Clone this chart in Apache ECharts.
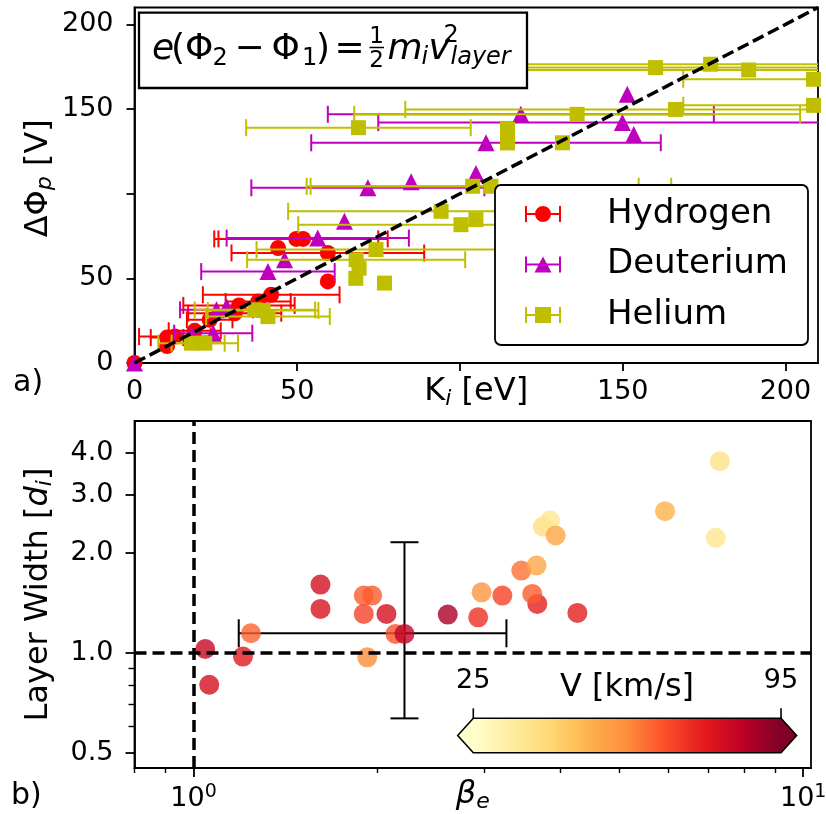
<!DOCTYPE html>
<html>
<head>
<meta charset="utf-8">
<script src="https://cdn.jsdelivr.net/npm/echarts@6/dist/echarts.min.js"></script>
<style>
  html, body { margin: 0; padding: 0; background: #fff; }
  #chart { width: 826px; height: 814px; }
</style>
</head>
<body>
<div id="chart"></div>
<script>
// ---------- Panel a) : potential drop vs. ion kinetic energy ----------
// K_i [eV], ΔΦ_p [V], horizontal uncertainty on K_i [eV]
const hydrogenK    = [0, 10, 10, 12.4, 18.5, 23.1, 30.8, 32.1, 38, 42, 44.1, 49.7, 51.8, 59.4, 59.4];
const hydrogenPhi  = [0, 10, 15, 15.6, 19, 25.5, 29.4, 34, 36.3, 40.3, 67.9, 73.3, 73.3, 65, 48.2];
const hydrogenKErr = [0, 0, 5, 11, 8, 7, 14.3, 17.1, 10, 21, 0, 25.2, 26, 29.6, 0];

const deuteriumK    = [0, 17.5, 24.2, 25.2, 28.3, 41, 46.1, 56.3, 64.5, 71.7, 85, 104.9, 108, 118.7, 149.9, 151.4, 153.4];
const deuteriumPhi  = [0, 16.6, 17.6, 31.4, 33.3, 54, 61, 73.8, 83.7, 103.5, 107, 112, 130.1, 146.9, 142, 158.7, 135];
const deuteriumKErr = [0, 0, 12, 11.2, 0, 20.5, 0, 28, 0, 35.8, 0, 0, 53.7, 59.3, 75, 0, 0];

const heliumK    = [17.5, 21.6, 37, 39.5, 41, 68.1, 69, 68, 68.8, 74.2, 76.8, 94.2, 100.3, 104.9, 103.9, 109.5, 114.6, 114.6, 131.5, 136, 160.1, 166.2, 177, 188.7, 208.6, 208.6];
const heliumPhi  = [11.7, 11.7, 31.4, 31, 27.4, 61, 56, 50, 139, 67, 47.2, 89.6, 81.7, 84.7, 104.4, 104.4, 138, 130, 130.1, 146.9, 174.5, 149.8, 176.5, 173.1, 167.6, 152.2];
const heliumKErr = [10.2, 10.2, 18.5, 17, 19, 33.5, 0, 0, 34.5, 36.7, 0, 47, 50, 0, 51, 55.4, 0, 0, 0, 68.5, 60, 83, 80, 70, 40, 40];

// e(Φ2 − Φ1) = ½ m v² reference line, from origin to the axis limit
const unityLine = [0, 210];

const energyTicks  = [0, 50, 100, 150, 200];
const energyLabels = [0, 50, 150, 200];
const phiTicks     = [0, 50, 100, 150, 200];
const phiLabels    = [0, 50, 150, 200];

// ---------- Panel b) : layer width vs. electron beta ----------
const betaE      = [1.045, 1.061, 1.205, 1.242, 1.615, 1.615, 1.902, 1.963, 1.902, 2.072, 1.927, 2.144, 2.218, 2.612, 2.93, 2.968, 3.21, 3.448, 3.653, 3.663, 3.594, 4.262, 3.741, 3.843, 3.926, 5.935, 7.298, 7.189];
const layerWidth = [1.028, 0.802, 0.975, 1.146, 1.607, 1.357, 1.489, 1.489, 1.311, 1.311, 0.970, 1.141, 1.141, 1.305, 1.28, 1.523, 1.489, 1.771, 1.834, 1.405, 1.506, 1.32, 2.403, 2.506, 2.259, 2.674, 3.783, 2.223];
const speedV     = [84, 81, 78, 66, 81, 80, 67, 67, 71, 81, 60, 68, 85, 89, 74, 58, 71, 64, 54, 77, 67, 77, 40, 37, 54, 51.5, 39, 37];

// representative uncertainty: centre, beta range, width range
const typicalBeta       = [2.218];
const typicalWidth      = [1.146];
const typicalBetaRange  = [1.186, 3.26];
const typicalWidthRange = [0.635, 2.156];

const betaTicks       = [1, 10];
const betaMinorTicks  = [0.8, 0.9, 2, 3, 4, 5, 6, 7, 8, 9];
const widthTicks      = [0.5, 1, 2, 3, 4];
const widthMinorTicks = [0.6, 0.7, 0.8, 0.9];
const speedRange      = [25, 95];
const speedTicks      = [25, 95];

const FONT = 'DejaVu Sans';
const ylOrRd = ['#ffffcc', '#ffeda0', '#fed976', '#feb24c', '#fd8d3c', '#fc4e2a', '#e31a1c', '#bd0026', '#800026'];

const species = [
  { name: 'Hydrogen', color: '#ff0000', symbol: 'circle', size: 16, K: hydrogenK, phi: hydrogenPhi, err: hydrogenKErr,
    icon: 'path://M0 1h2v16H0z M34 1h2v16h-2z M2 8h32v2H2z M26 9a8 8 0 1 1 -16 0a8 8 0 1 1 16 0z' },
  { name: 'Deuterium', color: '#bf00bf', symbol: 'triangle', size: 17, K: deuteriumK, phi: deuteriumPhi, err: deuteriumKErr,
    icon: 'path://M0 1h2v16H0z M34 1h2v16h-2z M2 8h32v2H2z M18 1L26.5 17H9.5z' },
  { name: 'Helium', color: '#bfbf00', symbol: 'rect', size: 15, K: heliumK, phi: heliumPhi, err: heliumKErr,
    icon: 'path://M0 1h2v16H0z M34 1h2v16h-2z M2 8h32v2H2z M10 1h16v16H10z' }
];

// horizontal error bar with end caps, trimmed to the plotting area
function xErrorBar(color) {
  return function (params, api) {
    const x = api.value(0), y = api.value(1), e = api.value(2);
    if (!e) return null;
    const p0 = api.coord([x - e, y]);
    const p1 = api.coord([x + e, y]);
    const cs = params.coordSys;
    const xmin = cs.x, xmax = cs.x + cs.width;
    const st = { stroke: color, lineWidth: 2 };
    const kids = [{ type: 'line', shape: { x1: Math.max(p0[0], xmin), y1: p0[1], x2: Math.min(p1[0], xmax), y2: p1[1] }, style: st }];
    if (p0[0] >= xmin) kids.push({ type: 'line', shape: { x1: p0[0], y1: p0[1] - 8.5, x2: p0[0], y2: p0[1] + 8.5 }, style: st });
    if (p1[0] <= xmax) kids.push({ type: 'line', shape: { x1: p1[0], y1: p1[1] - 8.5, x2: p1[0], y2: p1[1] + 8.5 }, style: st });
    return { type: 'group', children: kids };
  };
}

const series = [];
species.forEach((sp, k) => {
  const pts = sp.K.map((x, i) => [x, sp.phi[i], sp.err[i]]);
  series.push({
    type: 'custom', name: sp.name + ' K error', xAxisIndex: 0, yAxisIndex: 0, z: 2 + 2 * k,
    data: pts, encode: { x: 0, y: 1 }, renderItem: xErrorBar(sp.color), silent: true
  });
  series.push({
    type: 'scatter', name: sp.name, xAxisIndex: 0, yAxisIndex: 0, z: 3 + 2 * k,
    symbol: sp.symbol, symbolSize: sp.size, data: pts.map(p => [p[0], p[1]]),
    itemStyle: { color: sp.color, opacity: 1 }, clip: true
  });
});

series.push({
  type: 'line', name: 'unity', xAxisIndex: 0, yAxisIndex: 0, z: 9, silent: true,
  data: [[unityLine[0], unityLine[0]], [unityLine[1], unityLine[1]]],
  symbol: 'none', lineStyle: { color: '#000', width: 3.5, type: [12, 5] }
});

// panel b) series
series.push({
  type: 'custom', name: 'typical uncertainty', xAxisIndex: 1, yAxisIndex: 1, z: 2, silent: true,
  data: typicalBeta.map((b, i) => [b, typicalWidth[i], typicalBetaRange[0], typicalBetaRange[1], typicalWidthRange[0], typicalWidthRange[1]]),
  encode: { x: 0, y: 1 },
  renderItem: function (params, api) {
    const c = api.coord([api.value(0), api.value(1)]);
    const l = api.coord([api.value(2), api.value(1)]);
    const r = api.coord([api.value(3), api.value(1)]);
    const lo = api.coord([api.value(0), api.value(4)]);
    const hi = api.coord([api.value(0), api.value(5)]);
    const st = { stroke: '#000', lineWidth: 2 };
    const cap = 14;
    return { type: 'group', children: [
      { type: 'line', shape: { x1: l[0], y1: c[1], x2: r[0], y2: c[1] }, style: st },
      { type: 'line', shape: { x1: l[0], y1: c[1] - cap, x2: l[0], y2: c[1] + cap }, style: st },
      { type: 'line', shape: { x1: r[0], y1: c[1] - cap, x2: r[0], y2: c[1] + cap }, style: st },
      { type: 'line', shape: { x1: c[0], y1: lo[1], x2: c[0], y2: hi[1] }, style: st },
      { type: 'line', shape: { x1: c[0] - cap, y1: lo[1], x2: c[0] + cap, y2: lo[1] }, style: st },
      { type: 'line', shape: { x1: c[0] - cap, y1: hi[1], x2: c[0] + cap, y2: hi[1] }, style: st }
    ] };
  }
});
const layerSeriesIndex = series.length;
series.push({
  type: 'scatter', name: 'layer width', xAxisIndex: 1, yAxisIndex: 1, z: 3,
  symbol: 'circle', symbolSize: 20,
  data: betaE.map((b, i) => [b, layerWidth[i], speedV[i]])
});
series.push({
  type: 'line', name: 'unit guides', xAxisIndex: 1, yAxisIndex: 1, z: 6, silent: true, data: [],
  markLine: {
    silent: true, symbol: 'none', label: { show: false }, animation: false,
    lineStyle: { color: '#000', width: 3.5, type: [12, 6] },
    data: [{ xAxis: 1 }, { yAxis: 1 }]
  }
});

const axisLineStyle = { color: '#000', width: 1.8 };
const tickFont = { fontFamily: FONT, fontSize: 27, color: '#000' };

// colour bar geometry
const cbLeft = 473.3, cbRight = 781, cbTop = 718.3, cbBottom = 752.7, cbTip = 15.6;
const cbX = v => cbLeft + (v - speedRange[0]) / (speedRange[1] - speedRange[0]) * (cbRight - cbLeft);
const cbMid = (cbTop + cbBottom) / 2;

// e(Φ2 − Φ1) = ½ m_i v²_layer, composed piece by piece
const formulaParts = [
  { t: 'e', x: 152, y: 50, s: 36, it: true },
  { t: '(', x: 171, y: 50, s: 36 },
  { t: 'Φ', x: 185, y: 50, s: 36 },
  { t: '2', x: 212.5, y: 59, s: 24 },
  { t: '−', x: 234.5, y: 50, s: 36 },
  { t: 'Φ', x: 271.5, y: 50, s: 36 },
  { t: '1', x: 302, y: 59, s: 24 },
  { t: ')', x: 316, y: 50, s: 36 },
  { t: '=', x: 334.5, y: 50, s: 36 },
  { t: '1', x: 376.5, y: 37.5, s: 23, c: true },
  { t: '2', x: 376.5, y: 61, s: 23, c: true },
  { t: 'm', x: 387.5, y: 50, s: 36, it: true },
  { t: 'i', x: 421.5, y: 58, s: 24, it: true },
  { t: 'v', x: 428.5, y: 50, s: 36, it: true },
  { t: '2', x: 443.5, y: 35.5, s: 24 },
  { t: 'layer', x: 450.5, y: 57.5, s: 24, it: true }
];

const graphics = [
  { type: 'rect', z: 30, shape: { x: 139, y: 12.7, width: 388, height: 75.3 }, style: { fill: '#fff', stroke: '#000', lineWidth: 2.3 } },
  { type: 'line', z: 31, shape: { x1: 369.5, y1: 47.5, x2: 384, y2: 47.5 }, style: { stroke: '#000', lineWidth: 1.5 } }
];
formulaParts.forEach(p => graphics.push({
  type: 'text', z: 31, x: p.x, y: p.y,
  style: { text: p.t, fontFamily: FONT, fontSize: p.s, fontStyle: p.it ? 'italic' : 'normal', fill: '#000',
           align: p.c ? 'center' : 'left', verticalAlign: 'middle' }
}));
// panel letters
graphics.push({ type: 'text', z: 31, x: 13, y: 383, style: { text: 'a)', fontFamily: FONT, fontSize: 30, fill: '#000', align: 'left', verticalAlign: 'middle' } });
graphics.push({ type: 'text', z: 31, x: 11, y: 796, style: { text: 'b)', fontFamily: FONT, fontSize: 30, fill: '#000', align: 'left', verticalAlign: 'middle' } });
// colour bar with extension arrows
graphics.push({
  type: 'polygon', z: 31,
  shape: { points: [[cbLeft - cbTip, cbMid], [cbLeft, cbTop], [cbRight, cbTop], [cbRight + cbTip, cbMid], [cbRight, cbBottom], [cbLeft, cbBottom]] },
  style: {
    fill: new echarts.graphic.LinearGradient(cbLeft, 0, cbRight, 0,
      ylOrRd.map((c, i) => ({ offset: i / (ylOrRd.length - 1), color: c })), true),
    stroke: '#000', lineWidth: 1.6
  }
});
speedTicks.forEach(v => {
  graphics.push({ type: 'line', z: 31, shape: { x1: cbX(v), y1: cbTop - 10, x2: cbX(v), y2: cbTop }, style: { stroke: '#000', lineWidth: 1.6 } });
  graphics.push({ type: 'text', z: 31, x: cbX(v), y: 681, style: { text: String(v), fontFamily: FONT, fontSize: 27, fill: '#000', align: 'center', verticalAlign: 'middle' } });
});
graphics.push({ type: 'text', z: 31, x: 627, y: 688, style: { text: 'V [km/s]', fontFamily: FONT, fontSize: 32, fill: '#000', align: 'center', verticalAlign: 'middle' } });

const subRich = { fontFamily: FONT, fontSize: 22, fontStyle: 'italic', lineHeight: 24, verticalAlign: 'bottom', color: '#000' };
const nameRich = { fontFamily: FONT, fontSize: 32, lineHeight: 36, color: '#000' };

const option = {
  animation: false,
  backgroundColor: '#fff',
  textStyle: { fontFamily: FONT },
  grid: [
    { left: 134.5, top: 7.5, width: 683.5, height: 355.5, show: true, borderColor: '#000', borderWidth: 1.8,
      backgroundColor: 'transparent', containLabel: false, outerBoundsMode: 'none' },
    { left: 134.5, top: 421, width: 676.5, height: 347, show: true, borderColor: '#000', borderWidth: 1.8,
      backgroundColor: 'transparent', containLabel: false, outerBoundsMode: 'none' }
  ],
  xAxis: [
    {
      type: 'value', gridIndex: 0, min: 0, max: 210, position: 'bottom',
      axisLine: { lineStyle: axisLineStyle }, splitLine: { show: false },
      axisTick: { customValues: energyTicks, length: 8, lineStyle: axisLineStyle },
      axisLabel: { customValues: energyLabels, margin: 15, ...tickFont },
      name: '{n|K}{s|i}{n| [eV]}', nameLocation: 'middle', nameGap: 11, nameMoveOverlap: false,
      nameTextStyle: { rich: { n: nameRich, s: subRich } }
    },
    {
      type: 'log', logBase: 10, gridIndex: 1, min: 0.8, max: 10.3, position: 'bottom',
      axisLine: { lineStyle: axisLineStyle }, splitLine: { show: false },
      axisTick: { customValues: betaTicks, length: 9, lineStyle: axisLineStyle },
      axisLabel: {
        customValues: betaTicks, margin: 15,
        formatter: v => '{b|10}{p|' + Math.round(Math.log10(v)) + '}',
        rich: {
          b: { fontFamily: FONT, fontSize: 27, lineHeight: 32, color: '#000' },
          p: { fontFamily: FONT, fontSize: 19, lineHeight: 18, verticalAlign: 'top', color: '#000' }
        }
      },
      name: '{b|β}{s|e}', nameLocation: 'middle', nameGap: 9, nameMoveOverlap: false,
      nameTextStyle: { rich: {
        b: { fontFamily: FONT, fontSize: 32, fontStyle: 'italic', lineHeight: 36, color: '#000' },
        s: subRich
      } }
    },
    {
      type: 'log', logBase: 10, gridIndex: 1, min: 0.8, max: 10.3, position: 'bottom',
      axisLine: { show: false }, splitLine: { show: false }, axisLabel: { show: false },
      axisTick: { customValues: betaMinorTicks, length: 5, lineStyle: { color: '#000', width: 1.4 } }
    }
  ],
  yAxis: [
    {
      type: 'value', gridIndex: 0, min: 0, max: 210, position: 'left',
      axisLine: { show: true, lineStyle: axisLineStyle }, splitLine: { show: false },
      axisTick: { show: true, customValues: phiTicks, length: 8, lineStyle: axisLineStyle },
      axisLabel: { customValues: phiLabels, margin: 21, ...tickFont },
      name: '{n|ΔΦ}{s|p}{n| [V]}', nameLocation: 'middle', nameGap: 78, nameMoveOverlap: false,
      nameTextStyle: { padding: [0, 0, 0, 14], rich: { n: nameRich, s: subRich } }
    },
    {
      type: 'log', logBase: 10, gridIndex: 1, min: 0.45, max: 5.0, position: 'left',
      axisLine: { show: true, lineStyle: axisLineStyle }, splitLine: { show: false },
      axisTick: { show: true, customValues: widthTicks, length: 9, lineStyle: axisLineStyle },
      axisLabel: { customValues: widthTicks, margin: 21, formatter: v => v.toFixed(1), ...tickFont },
      name: '{n|Layer Width [}{d|d}{s|i}{n|]}', nameLocation: 'middle', nameGap: 78, nameMoveOverlap: false,
      nameTextStyle: { rich: {
        n: nameRich,
        d: { fontFamily: FONT, fontSize: 32, fontStyle: 'italic', lineHeight: 36, color: '#000' },
        s: subRich
      } }
    },
    {
      type: 'log', logBase: 10, gridIndex: 1, min: 0.45, max: 5.0, position: 'left',
      axisLine: { show: false }, splitLine: { show: false }, axisLabel: { show: false },
      axisTick: { show: true, customValues: widthMinorTicks, length: 6, lineStyle: { color: '#000', width: 1.4 } }
    }
  ],
  visualMap: {
    type: 'continuous', show: false, min: speedRange[0], max: speedRange[1], dimension: 2,
    seriesIndex: layerSeriesIndex, inRange: { color: ylOrRd }
  },
  legend: {
    z: 20, orient: 'vertical', left: 495, top: 185, selectedMode: false,
    padding: [11, 20, 12, 30], itemGap: 14.5, itemWidth: 36, itemHeight: 16,
    backgroundColor: '#fff', borderColor: '#000', borderWidth: 1.8, borderRadius: 6,
    textStyle: { fontFamily: FONT, fontSize: 34, color: '#000', lineHeight: 36, padding: [0, 0, 0, 41] },
    data: species.map(sp => ({ name: sp.name, icon: sp.icon, itemStyle: { color: sp.color } }))
  },
  graphic: graphics,
  series: series
};

const chart = echarts.init(document.getElementById('chart'), null, { renderer: 'canvas' });
chart.setOption(option);
</script>
</body>
</html>
